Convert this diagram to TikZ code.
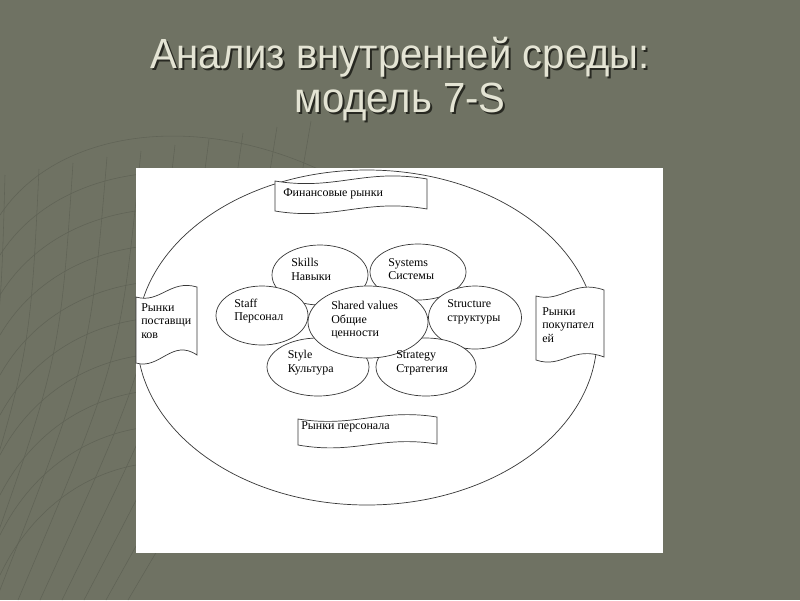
\documentclass[tikz,border=0pt]{standalone}
\usepackage{fontspec}
\setmainfont{Liberation Serif}
\newfontfamily\titlefont[FakeStretch=0.95]{Liberation Sans}

\definecolor{slidebg}{RGB}{111,114,99}
\definecolor{meshline}{RGB}{96,99,86}
\definecolor{titletext}{RGB}{228,228,212}
\definecolor{titleshade}{RGB}{40,41,34}
\definecolor{outline}{RGB}{55,55,55}

\tikzset{
  petal/.style={draw=outline, line width=0.5pt, fill=white},
  tape/.style={draw=outline, line width=0.5pt, fill=white},
  lbl/.style={font=\fontsize{8.5}{9.8}\selectfont, align=left, inner sep=0pt, anchor=west},
  headline/.style={font=\titlefont\fontsize{30}{36}\selectfont, inner sep=0pt, anchor=base}
}

\begin{document}
\begin{tikzpicture}[x=0.025cm, y=-0.025cm]

\useasboundingbox (0,0) rectangle (800,600);
\fill[slidebg] (0,0) rectangle (800,600);

%% the mesh in the background
\begin{scope}[draw=meshline, line width=0.4pt]
\foreach \i in {0,...,9}
  \draw (0,{215+40*\i}) .. controls (60,{125+36*\i}) and (210,{110+34*\i}) .. (340,{180+40*\i});
\foreach \j in {0,...,9}
  \draw ({5+34*\j},{175-6*\j}) .. controls ({0+30*\j},360) .. ({-70+22*\j},600);
\end{scope}

%% the title
\node[headline, titleshade] (shade1) at (402,70) {Анализ внутренней среды:};
\node[headline, titletext] (title1) at (400,68) {Анализ внутренней среды:};
\node[headline, titleshade] (shade2) at (402,114) {модель 7-S};
\node[headline, titletext] (title2) at (400,112) {модель 7-S};

%% the sheet
\fill[white] (136,168) rectangle (663,553);

%% the outer ellipse
\draw[outline, line width=0.5pt] (367,337.5) ellipse [x radius=230, y radius=167.5];

%% the markets
% top
\draw[tape] (275,181) .. controls (335,191) and (365,168) .. (427,179)
  -- (427,209) .. controls (365,198) and (335,221) .. (275,211) -- cycle;
% bottom
\draw[tape] (298,419) .. controls (355,428) and (380,408) .. (437,417)
  -- (437,444) .. controls (380,435) and (355,455) .. (298,445) -- cycle;
% left
\draw[tape] (136,297) .. controls (160,304) and (170,279) .. (197,287)
  -- (197,355) .. controls (172,338) and (160,370) .. (136,363) -- cycle;
% right
\draw[tape] (536,296) .. controls (562,303) and (573,279) .. (604,290)
  -- (604,357) .. controls (573,345) and (562,369) .. (536,360) -- cycle;

%% the seven S
\draw[petal] (320,275) ellipse [x radius=48, y radius=30];   % skills
\draw[petal] (418,272) ellipse [x radius=48, y radius=28];   % systems
\draw[petal] (262,315.5) ellipse [x radius=46, y radius=29.5]; % staff
\draw[petal] (475,317.5) ellipse [x radius=46.5, y radius=31.5]; % structure
\draw[petal] (318,367) ellipse [x radius=51, y radius=29];   % style
\draw[petal] (426,367) ellipse [x radius=50, y radius=29];   % strategy
\draw[petal] (368,322) ellipse [x radius=60, y radius=36];   % shared values

%% labels
\node[lbl] (skills) at (291,269.5) {Skills\\Навыки};
\node[lbl] (systems) at (388,269) {Systems\\Системы};
\node[lbl] (staff) at (234,311) {Staff\\Персонал};
\node[lbl] (shared) at (331,320) {Shared values\\Общие\\ценности};
\node[lbl] (structure) at (447,311.5) {Structure\\структуры};
\node[lbl] (style) at (287.5,363) {Style\\Культура};
\node[lbl] (strategy) at (396,362.5) {Strategy\\Стратегия};

\node[lbl] (finance) at (283,194) {Финансовые рынки};
\node[lbl] (labour) at (301,427) {Рынки персонала};
\node[lbl] (suppliers) at (141,321) {Рынки\\поставщи\\ков};
\node[lbl] (buyers) at (542,325) {Рынки\\покупател\\ей};

\end{tikzpicture}
\end{document}
